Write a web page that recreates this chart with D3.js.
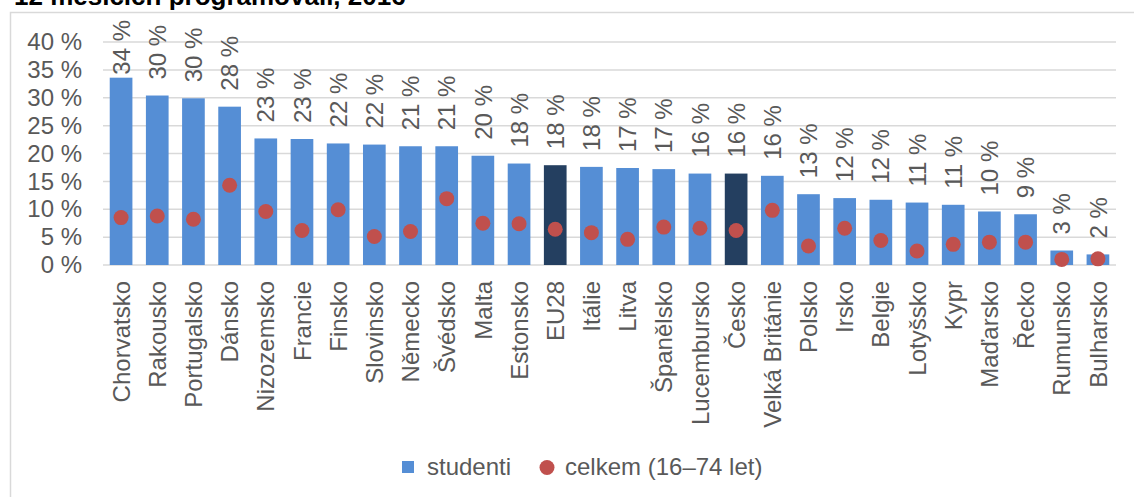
<!DOCTYPE html>
<html>
<head>
<meta charset="utf-8">
<script src="https://cdn.jsdelivr.net/npm/d3@7"></script>
<style>
  body { margin: 0; background: #fff; }
  svg { display: block; font-family: "Liberation Sans", Arial, sans-serif; }
</style>
</head>
<body>
<svg id="chart" width="1134" height="497"></svg>
<script>
  // Data
  const categories = ["Chorvatsko", "Rakousko", "Portugalsko", "Dánsko", "Nizozemsko", "Francie", "Finsko",
    "Slovinsko", "Německo", "Švédsko", "Malta", "Estonsko", "EU28", "Itálie", "Litva", "Španělsko",
    "Lucembursko", "Česko", "Velká Británie", "Polsko", "Irsko", "Belgie", "Lotyšsko", "Kypr",
    "Maďarsko", "Řecko", "Rumunsko", "Bulharsko"];
  const studenti = [33.6, 30.4, 29.9, 28.4, 22.7, 22.6, 21.8, 21.6, 21.3, 21.3, 19.6, 18.2, 17.9, 17.6,
    17.4, 17.2, 16.4, 16.4, 16.0, 12.7, 12.0, 11.7, 11.2, 10.8, 9.6, 9.1, 2.6, 1.9];
  const celkem = [8.5, 8.8, 8.2, 14.3, 9.6, 6.2, 9.9, 5.1, 6.0, 11.9, 7.5, 7.4, 6.4, 5.8,
    4.6, 6.8, 6.6, 6.2, 9.8, 3.4, 6.6, 4.4, 2.5, 3.7, 4.1, 4.1, 1.0, 1.1];
  const highlighted = ["EU28", "Česko"];
  const yTicks = [0, 5, 10, 15, 20, 25, 30, 35, 40];

  const data = categories.map((c, i) => ({ name: c, s: studenti[i], c: celkem[i] }));

  const marginLeft = 103;
  const plotRight = 1116;
  const plotTop = 42;
  const plotBottom = 265;
  const fontSize = 24;
  const textColor = "#595959";

  const svg = d3.select("#chart");

  // Chart border (partly off-screen)
  svg.append("rect")
    .attr("x", 10.5).attr("y", 12.5)
    .attr("width", 1140).attr("height", 500)
    .attr("fill", "none")
    .attr("stroke", "#d9d9d9")
    .attr("stroke-width", 1.5);

  // Title, mostly cut off above the picture
  svg.append("text")
    .attr("x", 14).attr("y", 4.5)
    .attr("font-size", 26)
    .attr("font-weight", "bold")
    .attr("fill", "#000")
    .text("12 měsících programovali, 2016");

  // Scales
  const x = d3.scaleBand()
    .domain(categories)
    .range([marginLeft, plotRight])
    .paddingInner(0.373)
    .paddingOuter(0.186);

  const y = d3.scaleLinear()
    .domain([0, 40])
    .range([plotBottom, plotTop]);

  // Gridlines
  svg.append("g")
    .selectAll("line")
    .data(yTicks)
    .enter()
    .append("line")
    .attr("x1", marginLeft)
    .attr("x2", plotRight)
    .attr("y1", (d) => y(d))
    .attr("y2", (d) => y(d))
    .attr("stroke", "#d9d9d9")
    .attr("stroke-width", 1.5);

  // Y axis labels
  const yAxis = svg.append("g")
    .attr("transform", `translate(${marginLeft - 21},0)`)
    .call(d3.axisLeft(y).tickValues(yTicks).tickSize(0).tickPadding(0).tickFormat((d) => d + " %"));
  yAxis.select(".domain").remove();
  yAxis.selectAll("text")
    .attr("font-size", fontSize)
    .attr("font-family", "Liberation Sans, Arial, sans-serif")
    .attr("fill", textColor);

  // Bars
  svg.append("g")
    .selectAll("rect")
    .data(data)
    .enter()
    .append("rect")
    .attr("x", (d) => x(d.name))
    .attr("y", (d) => y(d.s))
    .attr("width", x.bandwidth())
    .attr("height", (d) => y(0) - y(d.s))
    .attr("fill", (d) => highlighted.includes(d.name) ? "#243f60" : "#558ed5");

  // Value labels (rotated), kept inside the chart area at the top
  const labels = svg.append("g")
    .selectAll("text")
    .data(data)
    .enter()
    .append("text")
    .attr("font-size", fontSize)
    .attr("fill", textColor)
    .attr("dy", "0.36em")
    .text((d) => Math.round(d.s) + " %");
  labels.each(function (d) {
    const len = this.getComputedTextLength();
    const cx = x(d.name) + x.bandwidth() / 2;
    const ty = Math.max(y(d.s) - 16, 20 + len);
    d3.select(this).attr("transform", `translate(${cx},${ty}) rotate(-90)`);
  });

  // Dots
  svg.append("g")
    .selectAll("circle")
    .data(data)
    .enter()
    .append("circle")
    .attr("cx", (d) => x(d.name) + x.bandwidth() / 2)
    .attr("cy", (d) => y(d.c))
    .attr("r", 7.5)
    .attr("fill", "#c0504d");

  // Category labels
  svg.append("g")
    .selectAll("text")
    .data(categories)
    .enter()
    .append("text")
    .attr("transform", (d) => `translate(${x(d) + x.bandwidth() / 2},281) rotate(-90)`)
    .attr("text-anchor", "end")
    .attr("dy", "0.36em")
    .attr("font-size", fontSize)
    .attr("fill", textColor)
    .text((d) => d);

  // Legend
  const legend = svg.append("g");
  legend.append("rect")
    .attr("x", 402).attr("y", 461)
    .attr("width", 12).attr("height", 12)
    .attr("fill", "#558ed5");
  legend.append("text")
    .attr("x", 427).attr("y", 475)
    .attr("font-size", fontSize)
    .attr("fill", textColor)
    .text("studenti");
  legend.append("circle")
    .attr("cx", 547).attr("cy", 467.5)
    .attr("r", 7.5)
    .attr("fill", "#c0504d");
  legend.append("text")
    .attr("x", 565).attr("y", 475)
    .attr("font-size", fontSize)
    .attr("fill", textColor)
    .text("celkem (16–74 let)");
</script>
</body>
</html>
